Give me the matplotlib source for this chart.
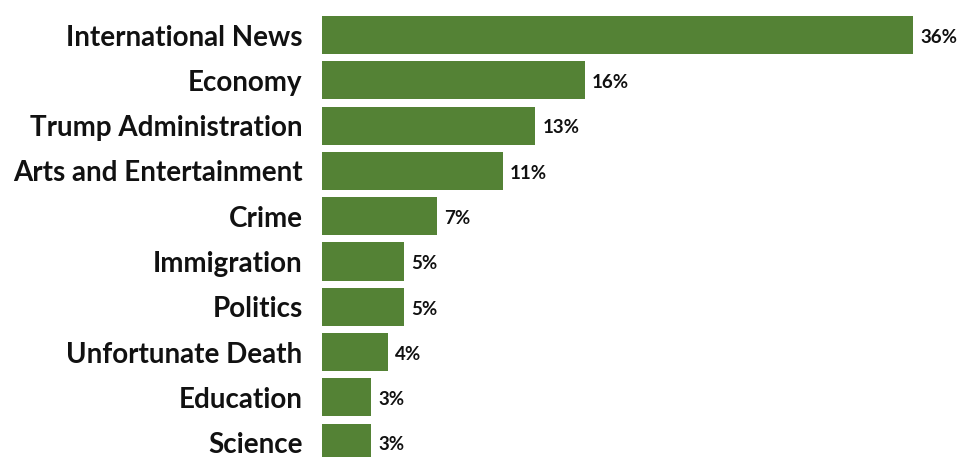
import matplotlib.pyplot as plt

categories = ['International News', 'Economy', 'Trump Administration',
              'Arts and Entertainment', 'Crime', 'Immigration', 'Politics',
              'Unfortunate Death', 'Education', 'Science']
shares = [36, 16, 13, 11, 7, 5, 5, 4, 3, 3]

plt.rcParams['font.family'] = ['Lato', 'DejaVu Sans']

fig = plt.figure(figsize=(9.6, 4.57), dpi=100)
ax = fig.add_axes([322 / 960, 0, 638 / 960, 1])

positions = list(range(len(categories)))
ax.barh(positions, shares, height=0.84, color='#548235')

for pos, value in zip(positions, shares):
    ax.text(value + 0.45, pos + 0.05, f'{value}%', va='center', ha='left',
            fontsize=13.5, fontweight='bold', color='#111111')

ax.set_xlim(0, 638 / 16.42)
ax.set_ylim((457 - 35) / 45.3, -35 / 45.3)
ax.set_yticks(positions)
ax.set_yticklabels(categories, fontsize=20, fontweight='bold', color='#111111')
ax.tick_params(axis='y', length=0, pad=14)
ax.set_xticks([])
for spine in ax.spines.values():
    spine.set_visible(False)

fig.savefig('out.png', dpi=100)
plt.close(fig)
